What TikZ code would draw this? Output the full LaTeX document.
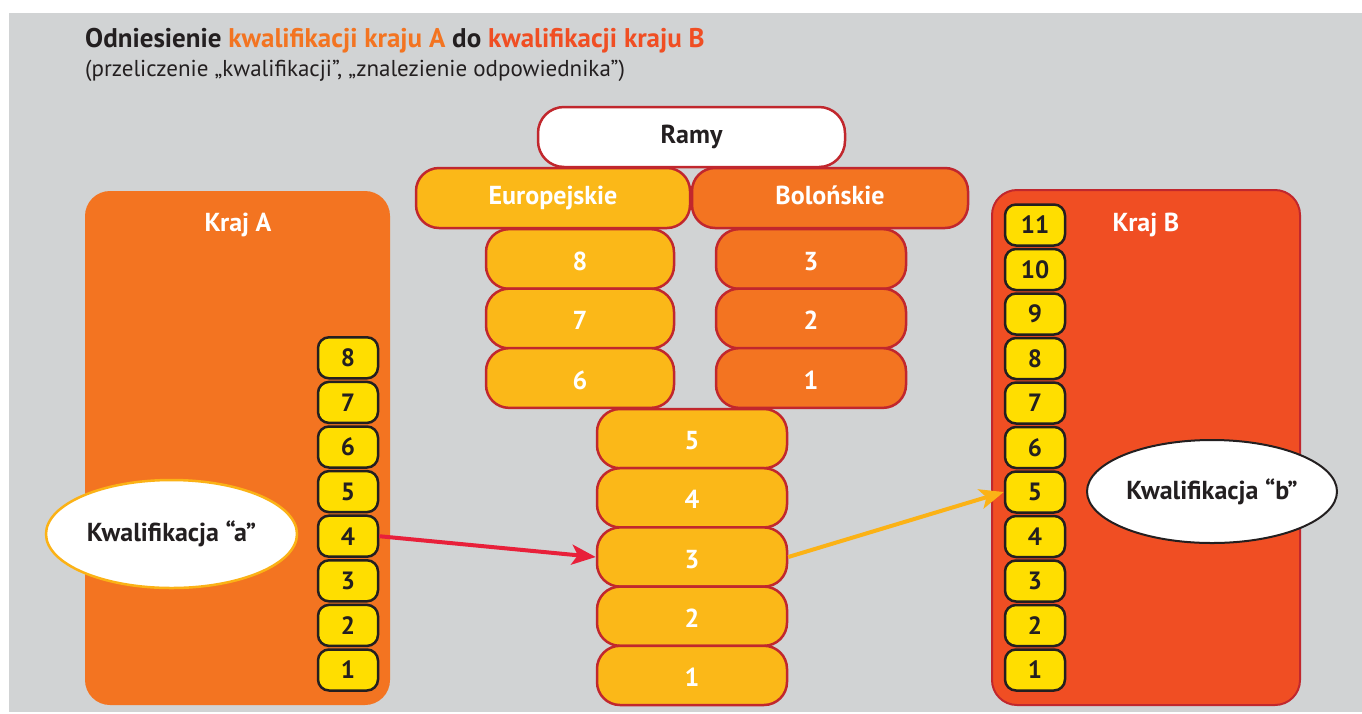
\documentclass[tikz,border=0pt]{standalone}
\usepackage{fontspec}
\setmainfont{PT Sans}
\usetikzlibrary{shapes.geometric,arrows.meta}
\definecolor{bg}{HTML}{D1D3D4}
\definecolor{orA}{HTML}{F37421}
\definecolor{orB}{HTML}{F04E23}
\definecolor{ylw}{HTML}{FBB818}
\definecolor{gold}{HTML}{FFDE00}
\definecolor{framered}{HTML}{C1272D}
\definecolor{ink}{HTML}{231F20}
\definecolor{arrR}{HTML}{E8203A}
\definecolor{arrY}{HTML}{FBB216}
\tikzset{
  country/.style={rectangle, rounded corners=25pt, inner sep=0pt},
  lvl/.style={rectangle, rounded corners=11pt, draw=ink, line width=2.5pt, fill=gold,
    minimum width=60pt, minimum height=41pt, inner sep=0pt, text=ink,
    font=\bfseries\fontsize{25}{28}\selectfont},
  tier/.style={rectangle, rounded corners=23pt, draw=framered, line width=2.5pt,
    inner sep=0pt, text=white, text height=18pt, text depth=5pt,
    font=\bfseries\fontsize{26}{30}\selectfont},
  digit/.style={tier, text height=22pt, text depth=0pt},
  qual/.style={ellipse, fill=white, inner sep=0pt, text=ink,
    font=\bfseries\fontsize{26}{30}\selectfont},
  lbl/.style={text=white, font=\bfseries\fontsize{26}{30}\selectfont},
  conn/.style={line width=4pt, -{Stealth[length=24pt,width=20pt,inset=6pt]}}
}
\begin{document}
\begin{tikzpicture}[x=1pt,y=-1pt]
\useasboundingbox (0,0) rectangle (1362,713);
\fill[bg] (9,13) rectangle (1362,712);

% title
\node[anchor=base west, inner sep=0pt, text=ink, font=\bfseries\fontsize{27}{32}\selectfont] (title) at (85,47)
  {Odniesienie \textcolor{orA}{kwalifikacji kraju A} do \textcolor{orB}{kwalifikacji kraju B}};
\node[anchor=base west, inner sep=0pt, text=ink, font=\fontsize{23}{28}\selectfont] (subtitle) at (85,76)
  {(przeliczenie „kwalifikacji”, „znalezienie odpowiednika”)};

% countries
\node[country, fill=orA, minimum width=305pt, minimum height=514pt] (krajA) at (237.5,448) {};
\node[lbl] (krajAlbl) at (238,225) {Kraj A};
\node[country, fill=orB, draw=framered, line width=2pt, minimum width=308pt, minimum height=515pt] (krajB) at (1146,447.5) {};
\node[lbl] (krajBlbl) at (1146,225) {Kraj B};

% frameworks
\node[tier, fill=white, text=ink, rounded corners=26pt, minimum width=307pt, minimum height=60pt] (ramy) at (691.5,137) {Ramy};
\node[tier, fill=ylw, minimum width=274pt, minimum height=60pt] (eur) at (553,198) {Europejskie};
\node[tier, fill=orA, minimum width=276pt, minimum height=60pt] (bol) at (830,198) {Bolońskie};

\foreach \n/\y in {8/259,7/318.5,6/378}
  \node[digit, fill=ylw, minimum width=188pt, minimum height=59.7pt] (e\n) at (580,\y) {\n};
\foreach \n/\y in {3/259,2/318.5,1/378}
  \node[digit, fill=orA, minimum width=190pt, minimum height=59.7pt] (b\n) at (811,\y) {\n};
\foreach \n/\y in {5/438.6,4/497.8,3/557,2/616.2,1/675.4}
  \node[digit, fill=ylw, minimum width=190pt, minimum height=59.2pt] (c\n) at (692,\y) {\n};

% country levels
\foreach \n in {1,...,8}
  \node[lvl] (a\n) at (348,{670-(\n-1)*44.6}) {\n};
\foreach \n in {1,...,11}
  \node[lvl] (bb\n) at (1035,{670-(\n-1)*44.5}) {\n};

% qualifications
\node[qual, draw=arrY, line width=2.5pt, minimum width=251pt, minimum height=108pt] (qa) at (171.5,534) {Kwalifikacja “a”};
\node[qual, draw=ink, line width=2pt, minimum width=250pt, minimum height=103pt] (qb) at (1212,491.5) {Kwalifikacja “b”};

% connectors
\draw[conn, arrR] (a4.east) -- (c3.west);
\draw[conn, arrY] (c3.east) -- (bb5.west);
\end{tikzpicture}
\end{document}
